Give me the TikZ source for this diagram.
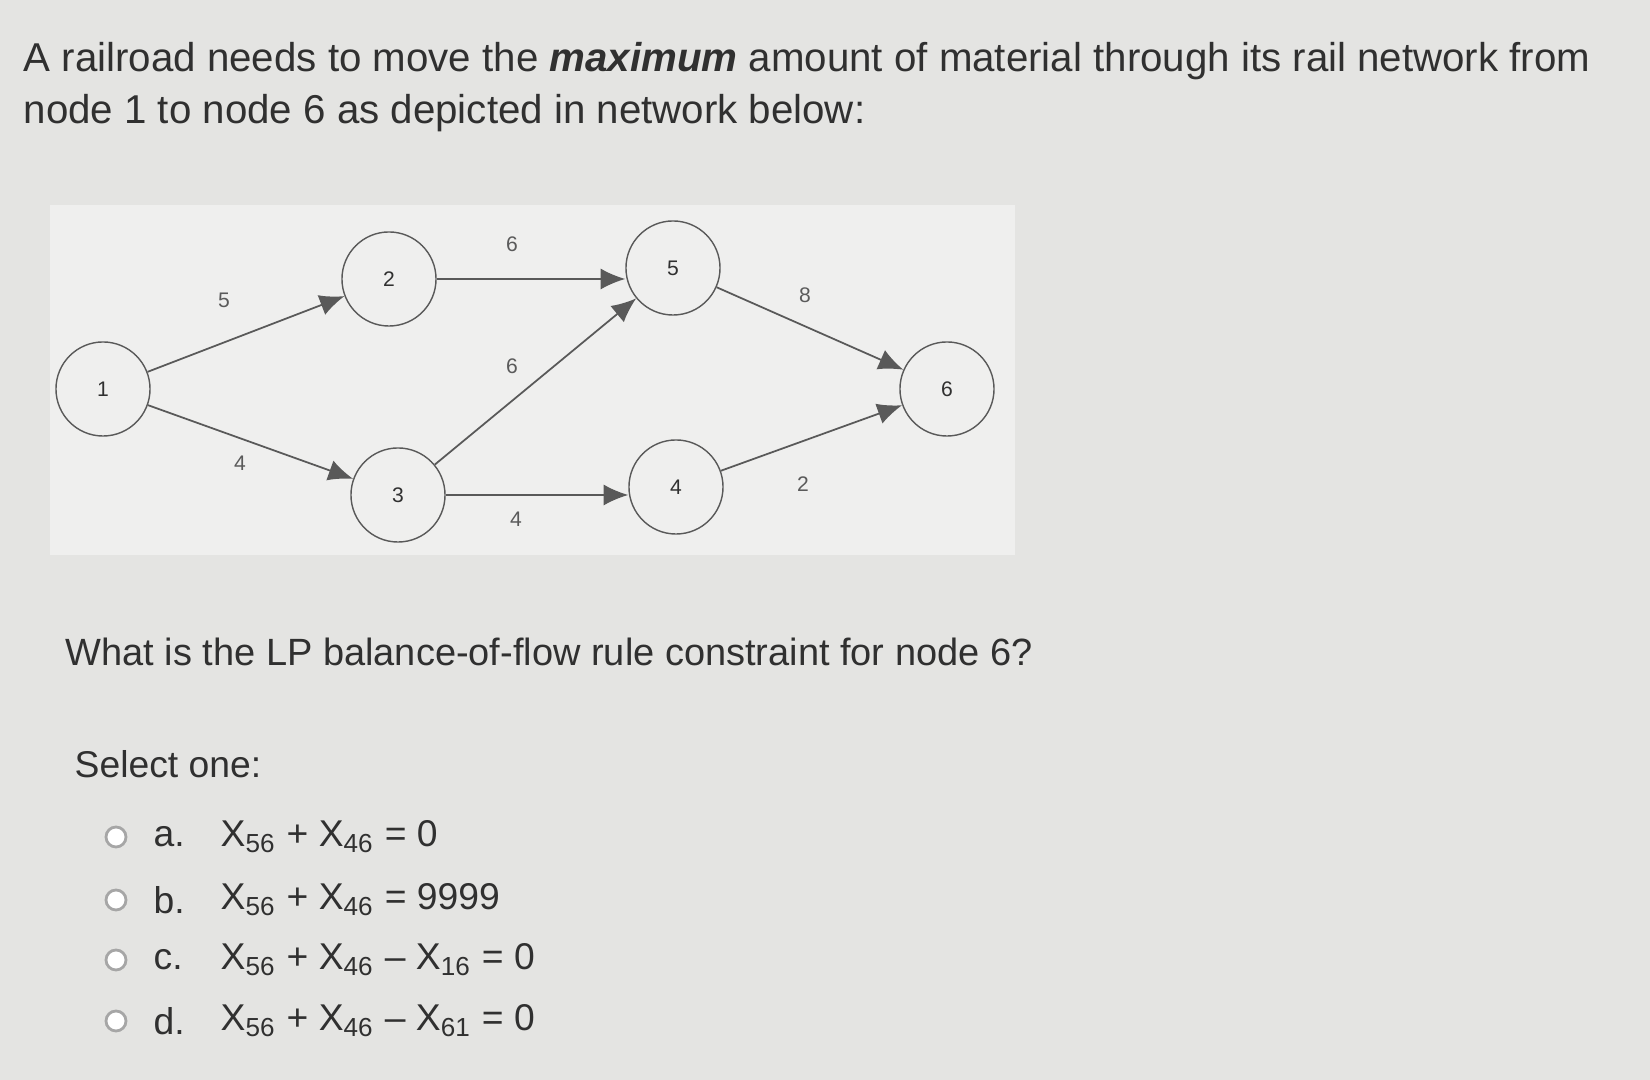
\documentclass[tikz,border=0pt]{standalone}
\usepackage{fontspec}
\setmainfont{Liberation Sans}
\usetikzlibrary{arrows.meta}
\definecolor{bg}{HTML}{E4E4E2}
\definecolor{ink}{HTML}{303030}
\newcommand{\xs}[1]{X\textsubscript{#1}}
\begin{document}
\begin{tikzpicture}[x=0.01cm,y=-0.01cm,
  txt/.style={anchor=base west,inner sep=0,text=ink,font=\fontsize{10.6}{12}\selectfont},
  vert/.style={draw=ink!80,circle,minimum size=0.94cm,inner sep=0,font=\fontsize{6}{7}\selectfont,text=ink},
  lab/.style={font=\fontsize{6}{7}\selectfont,text=ink!80},
  edge/.style={draw=ink!80,line width=0.5pt,-{Latex[length=7pt,width=6pt]}},
  radio/.style={draw=gray!70,line width=0.8pt,circle,minimum size=0.2cm,inner sep=0,fill=white}]
\fill[bg] (0,0) rectangle (1650,1080);
\fill[white!40!bg] (50,205) rectangle (1015,555);
\node[txt,font=\fontsize{11.45}{13}\selectfont] (t1) at (23,72) {A railroad needs to move the \textbf{\textit{maximum}} amount of material through its rail network from};
\node[txt,font=\fontsize{11.45}{13}\selectfont] (t2) at (23,124) {node 1 to node 6 as depicted in network below:};
\node[vert] (n1) at (103,389) {1};
\node[vert] (n2) at (389,279) {2};
\node[vert] (n3) at (398,495) {3};
\node[vert] (n5) at (673,268) {5};
\node[vert] (n4) at (676,487) {4};
\node[vert] (n6) at (947,389) {6};
\draw[edge] (n1) -- (n2);
\draw[edge] (n1) -- (n3);
\draw[edge] (n2.east) -- (n2.east -| n5.west);
\draw[edge] (n3) -- (n5);
\draw[edge] (n3.east) -- (n3.east -| n4.west);
\draw[edge] (n5) -- (n6);
\draw[edge] (n4) -- (n6);
\node[lab] (l12) at (224,300) {5};
\node[lab] (l13) at (240,463) {4};
\node[lab] (l25) at (512,244) {6};
\node[lab] (l35) at (512,366) {6};
\node[lab] (l56) at (805,295) {8};
\node[lab] (l34) at (516,519) {4};
\node[lab] (l46) at (803,484) {2};
\node[txt,font=\fontsize{10.8}{12}\selectfont] (q) at (65,666) {What is the LP balance-of-flow rule constraint for node 6?};
\node[txt] (s) at (74,778) {Select one:};
\foreach \y/\l/\f in {837/a./{\xs{56} + \xs{46} = 0},900/b./{\xs{56} + \xs{46} = 9999},960/c./{\xs{56} + \xs{46} -- \xs{16} = 0},1021/d./{\xs{56} + \xs{46} -- \xs{61} = 0}}{
  \node[radio] at (116,\y) {};
  \node[txt,anchor=west] at (153,\y) {\l};
  \node[txt,anchor=west] at (220,\y) {\fontsize{10.6}{12}\selectfont\f};
}
\end{tikzpicture}
\end{document}
